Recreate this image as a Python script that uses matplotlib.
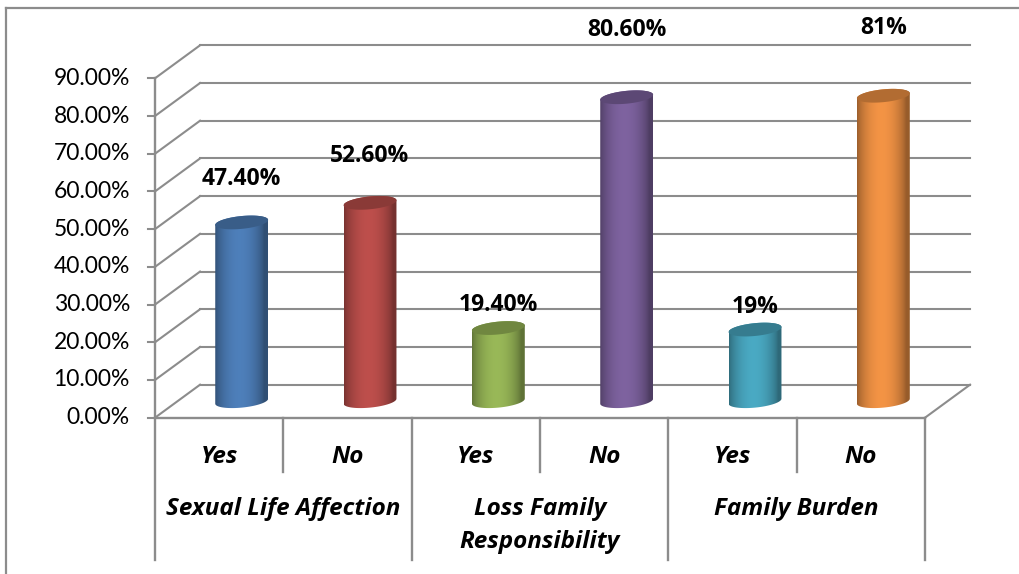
import numpy as np
import matplotlib
matplotlib.use('Agg')
import matplotlib.pyplot as plt
from matplotlib.patches import Polygon
from matplotlib.colors import to_rgb
from matplotlib.lines import Line2D

plt.rcParams['font.family'] = ['Lato', 'DejaVu Sans']
BOLD_FONT = ['Open Sans', 'DejaVu Sans']

# data
groups = ['Sexual Life Affection', 'Loss Family\nResponsibility', 'Family Burden']
answers = ['Yes', 'No', 'Yes', 'No', 'Yes', 'No']
values = [47.4, 52.6, 19.4, 80.6, 19.0, 81.0]
value_labels = ['47.40%', '52.60%', '19.40%', '80.60%', '19%', '81%']
colors = ['#4F81BD', '#C0504D', '#9BBB59', '#8064A2', '#4BACC6', '#F79646']
yticks = list(range(0, 100, 10))

# 3d look: depth offset in data units (slots, percent)
DX, DY = 0.351, 8.75
grid_c = '#8c8c8c'

fig = plt.figure(figsize=(10.19, 5.74), dpi=100)
ax = fig.add_axes([155 / 1019, 1 - 417.7 / 574, 770 / 1019, 339.4 / 574])
ax.set_xlim(0, 6)
ax.set_ylim(0, 90)
ax.axis('off')

# back wall gridlines and left side wall diagonals
for v in yticks:
    ax.plot([DX, 6 + DX], [v + DY, v + DY], color=grid_c, lw=1.5, clip_on=False, zorder=1)
    ax.plot([0, DX], [v, v + DY], color=grid_c, lw=1.5, clip_on=False, zorder=1)
    ax.plot([-0.055, 0], [v, v], color=grid_c, lw=1.5, clip_on=False, zorder=1)
    ax.text(-0.195, v, '%.2f%%' % v, ha='right', va='center', fontsize=16.5,
            color='black', clip_on=False)

# floor right edge
ax.plot([6, 6 + DX], [0, DY], color=grid_c, lw=1.5, clip_on=False, zorder=1)

# category axis
ax.plot([0, 6], [0, 0], color=grid_c, lw=1.7, clip_on=False, zorder=1)
ax.plot([0, 0], [90, -37.7], color=grid_c, lw=1.7, clip_on=False, zorder=1)
for xs in [2, 4, 6]:
    ax.plot([xs, xs], [0, -37.7], color=grid_c, lw=1.7, clip_on=False, zorder=1)
for xs in [1, 3, 5]:
    ax.plot([xs, xs], [0, -14.3], color=grid_c, lw=1.7, clip_on=False, zorder=1)

for i, a in enumerate(answers):
    ax.text(i + 0.5, -10.4, a, ha='center', va='center', fontsize=17.5,
            fontweight='bold', fontstyle='italic', family=BOLD_FONT, clip_on=False)
for g, name in enumerate(groups):
    yy = -24.2 if '\n' not in name else -28.7
    ax.text(2 * g + 1, yy, name, ha='center', va='center', fontsize=17.5,
            fontweight='bold', fontstyle='italic', family=BOLD_FONT,
            linespacing=1.5, clip_on=False)

# cylinders
a_w = 0.206   # half width in slots
b_h = 1.7     # ellipse half height in percent
k_t = 0.66    # tilt of ellipses
t = np.linspace(0, 2 * np.pi, 120)


def ellipse_pts(cx, cy, tt):
    return np.column_stack([cx + a_w * np.cos(tt), cy + b_h * np.sin(tt) + k_t * np.cos(tt)])


u = np.linspace(0, 1, 200)
shade = 0.66 + 0.40 * np.sin(np.pi * np.clip(u * 1.08, 0, 1)) ** 0.7

for i, (v, c) in enumerate(zip(values, colors)):
    cx = i + 0.5 + DX / 2
    base = DY / 2
    top = base + v
    rgb = np.array(to_rgb(c))
    low = ellipse_pts(cx, base, np.linspace(np.pi, 2 * np.pi, 60))
    up = ellipse_pts(cx, top, np.linspace(0, np.pi, 60))
    outline = np.vstack([low, up])
    clip = Polygon(outline, closed=True, transform=ax.transData, facecolor='none',
                   edgecolor='none')
    ax.add_patch(clip)
    img = np.clip(rgb[None, None, :] * shade[None, :, None] * 0.93, 0, 1)
    im = ax.imshow(img, extent=[cx - a_w, cx + a_w, base - b_h - 1, top + b_h + 1],
                   aspect='auto', zorder=3, clip_on=True, interpolation='bilinear')
    im.set_clip_path(clip)
    cap = ellipse_pts(cx, top, t)
    ax.add_patch(Polygon(cap, closed=True, facecolor=np.clip(rgb * 0.72, 0, 1),
                         edgecolor='none', zorder=4, clip_on=False))

    ly = top + 2.5 + 0.19 * v
    ax.text(cx, ly, value_labels[i], ha='center', va='center', fontsize=16.5,
            fontweight='bold', family=BOLD_FONT, clip_on=False, zorder=5)

ax.set_xlim(0, 6)
ax.set_ylim(0, 90)

# chart border
fig.add_artist(Line2D([6 / 1019, 1], [1 - 8 / 574, 1 - 8 / 574], color=grid_c, lw=1.6))
fig.add_artist(Line2D([6 / 1019, 6 / 1019], [0, 1 - 8 / 574], color=grid_c, lw=1.6))

fig.savefig('out.png', dpi=100)
